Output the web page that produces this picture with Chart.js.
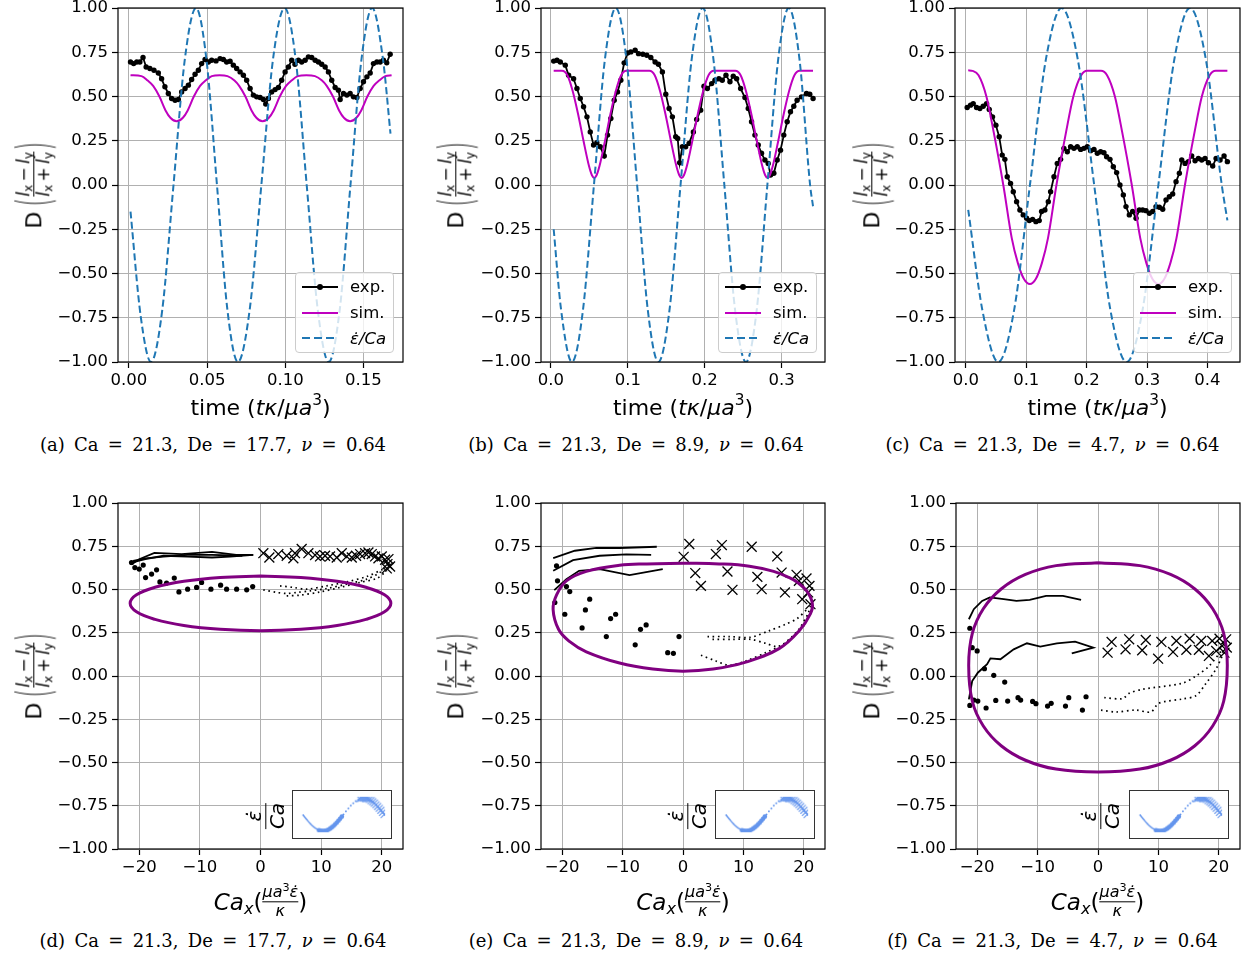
<!DOCTYPE html>
<html>
<head>
<meta charset="utf-8">
<script src="https://cdn.jsdelivr.net/npm/chart.js@4.4.1/dist/chart.umd.min.js"></script>
<style>
  body { margin:0; background:#fff; width:1249px; height:958px; position:relative; overflow:hidden; font-family:"DejaVu Sans"; color:#000; }
  canvas.main { position:absolute; }
  canvas.inset { position:absolute; background:#fff; border:1.3px solid #333; z-index:2; }
  .ytitle { position:absolute; transform:translate(-50%,-50%) rotate(-90deg); display:flex; align-items:center; font-size:22px; white-space:nowrap; line-height:1; }
  .bp { display:inline-block; transform:scale(0.9,2.1); margin:0 1px; font-weight:300; }
  .frac { display:inline-flex; flex-direction:column; align-items:center; font-size:17px; line-height:1.0; }
  .frac .bar { align-self:stretch; height:1.4px; background:#000; margin:1px 0; }
  sub, sup { font-size:70%; line-height:0; }
  sub { vertical-align:-0.25em; }
  sup { vertical-align:0.6em; }
  .xtitle { position:absolute; transform:translate(-50%,-50%); display:flex; align-items:center; font-size:23px; white-space:nowrap; }
  .xtitle .frac { font-size:16px; }
  .ttitle { position:absolute; transform:translate(-50%,-50%); font-size:22px; white-space:nowrap; }
  .caption { position:absolute; transform:translate(-50%,-50%); font-family:"DejaVu Serif"; font-size:18px; word-spacing:3.6px; white-space:nowrap; }
  .ilabel { position:absolute; transform:translate(-50%,-50%) rotate(-90deg); z-index:2; }
  .ilabel .frac { font-size:20px; }
  .legend { position:absolute; width:99px; height:81px; box-sizing:border-box; padding-top:1px; background:rgba(255,255,255,0.8); border:1px solid #ccc; border-radius:4px; font-size:16.5px; z-index:2; }
  .legend .row { height:25.8px; display:flex; align-items:center; }
  .legend .h { width:36px; height:2px; margin:0 12px 0 6px; position:relative; }
  .legend .dot { position:absolute; left:15px; top:-2px; width:6px; height:6px; border-radius:50%; background:#000; }
</style>
</head>
<body>
<script>
// tick labels
const yTicks = [-1, -0.75, -0.5, -0.25, 0, 0.25, 0.5, 0.75, 1];
const xTicksA = [0, 0.05, 0.1, 0.15];
const xTicksB = [0, 0.1, 0.2, 0.3];
const xTicksC = [0, 0.1, 0.2, 0.3, 0.4];
const caTicks = [-20, -10, 0, 10, 20];

// (a) De = 17.7  [time, D]
const expA = [[0.001,0.695],[0.003,0.686],[0.005,0.695],[0.007,0.695],[0.009,0.72],[0.011,0.667],[0.0134,0.658],[0.016,0.648],[0.0188,0.633],[0.0209,0.60],[0.023,0.555],[0.0252,0.517],[0.0273,0.489],[0.0295,0.479],[0.0316,0.483],[0.0337,0.526],[0.0359,0.545],[0.038,0.564],[0.0401,0.596],[0.0423,0.626],[0.0444,0.648],[0.0465,0.686],[0.0487,0.709],[0.0508,0.695],[0.0529,0.705],[0.0557,0.701],[0.0583,0.714],[0.0604,0.709],[0.0625,0.695],[0.0647,0.699],[0.0668,0.677],[0.0689,0.658],[0.0711,0.639],[0.0732,0.62],[0.0753,0.592],[0.0775,0.545],[0.0796,0.508],[0.0817,0.498],[0.0839,0.494],[0.086,0.483],[0.0875,0.457],[0.0892,0.489],[0.0913,0.526],[0.0935,0.539],[0.0956,0.551],[0.0977,0.592],[0.0999,0.639],[0.102,0.667],[0.1041,0.705],[0.1062,0.682],[0.1084,0.705],[0.1105,0.695],[0.1127,0.705],[0.1148,0.724],[0.1169,0.72],[0.1191,0.705],[0.1212,0.695],[0.1233,0.682],[0.1255,0.667],[0.1276,0.639],[0.1297,0.592],[0.1319,0.551],[0.134,0.536],[0.1351,0.483],[0.1372,0.517],[0.1394,0.508],[0.1415,0.517],[0.1436,0.498],[0.1458,0.494],[0.1479,0.545],[0.15,0.583],[0.1522,0.611],[0.1543,0.633],[0.1564,0.686],[0.1586,0.695],[0.1607,0.695],[0.1628,0.705],[0.1649,0.69],[0.1671,0.739]];
const simA = [[0.001,0.62],[0.008,0.615],[0.012,0.59],[0.0155,0.56],[0.0195,0.50],[0.0235,0.42],[0.0265,0.38],[0.0305,0.36],[0.0345,0.38],[0.0375,0.42],[0.0415,0.50],[0.0455,0.56],[0.049,0.59],[0.053,0.615],[0.058,0.62],[0.063,0.615],[0.0675,0.59],[0.0705,0.56],[0.0745,0.50],[0.0785,0.42],[0.0815,0.38],[0.0855,0.36],[0.0895,0.38],[0.0925,0.42],[0.0965,0.50],[0.1005,0.56],[0.104,0.59],[0.108,0.615],[0.1135,0.62],[0.119,0.615],[0.1235,0.59],[0.1265,0.56],[0.1305,0.50],[0.1345,0.42],[0.1375,0.38],[0.1415,0.36],[0.1455,0.38],[0.1485,0.42],[0.1525,0.50],[0.1565,0.56],[0.16,0.59],[0.164,0.615],[0.168,0.62]];
const rateA = [[0.001,-0.15],[0.0075,-0.74],[0.0141,-1],[0.0213,-0.707],[0.0285,0],[0.0357,0.707],[0.0429,1],[0.0496,0.707],[0.0563,0],[0.063,-0.707],[0.0697,-1],[0.0772,-0.707],[0.0847,0],[0.0921,0.707],[0.0996,1],[0.1067,0.707],[0.1137,0],[0.1208,-0.707],[0.1278,-1],[0.1348,-0.707],[0.1417,0],[0.1487,0.707],[0.1556,1],[0.1625,0.71],[0.1673,0.29]];

// (b) De = 8.9
const expB = [[0.0035,0.70],[0.0078,0.705],[0.0121,0.695],[0.0186,0.677],[0.0229,0.62],[0.0294,0.60],[0.0338,0.545],[0.0381,0.489],[0.0424,0.442],[0.0468,0.385],[0.0511,0.30],[0.0554,0.226],[0.0597,0.239],[0.0641,0.216],[0.0693,0.164],[0.0736,0.282],[0.0779,0.376],[0.0823,0.479],[0.0866,0.526],[0.0909,0.592],[0.0952,0.69],[0.0996,0.746],[0.1039,0.752],[0.1095,0.761],[0.1139,0.742],[0.1195,0.739],[0.1247,0.733],[0.1299,0.72],[0.1355,0.695],[0.1398,0.682],[0.145,0.639],[0.1494,0.513],[0.1537,0.432],[0.158,0.385],[0.1623,0.273],[0.1649,0.263],[0.1675,0.126],[0.171,0.216],[0.1753,0.216],[0.1797,0.235],[0.1853,0.30],[0.1896,0.37],[0.1948,0.423],[0.1991,0.558],[0.2035,0.545],[0.2091,0.573],[0.2134,0.592],[0.2186,0.60],[0.2229,0.592],[0.2277,0.62],[0.2329,0.583],[0.2372,0.615],[0.2416,0.60],[0.2468,0.545],[0.2524,0.494],[0.2567,0.432],[0.261,0.357],[0.2654,0.282],[0.2697,0.226],[0.274,0.179],[0.2784,0.141],[0.2827,0.122],[0.2857,0.056],[0.29,0.066],[0.2944,0.141],[0.2987,0.197],[0.303,0.282],[0.3074,0.357],[0.3117,0.414],[0.316,0.445],[0.3203,0.479],[0.326,0.498],[0.3325,0.517],[0.3368,0.513],[0.3411,0.489]];
const simB = [[0.0035,0.645],[0.0143,0.645],[0.0213,0.62],[0.0283,0.53],[0.0353,0.40],[0.0423,0.25],[0.0493,0.11],[0.0533,0.055],[0.0563,0.04],[0.0593,0.055],[0.0633,0.11],[0.0703,0.25],[0.0773,0.40],[0.0843,0.53],[0.0913,0.62],[0.0983,0.645],[0.128,0.645],[0.135,0.62],[0.142,0.53],[0.149,0.40],[0.156,0.25],[0.163,0.11],[0.167,0.055],[0.17,0.04],[0.173,0.055],[0.177,0.11],[0.184,0.25],[0.191,0.40],[0.198,0.53],[0.205,0.62],[0.212,0.645],[0.2398,0.645],[0.2468,0.62],[0.2538,0.53],[0.2608,0.40],[0.2678,0.25],[0.2748,0.11],[0.2788,0.055],[0.2818,0.04],[0.2848,0.055],[0.2888,0.11],[0.2958,0.25],[0.3028,0.40],[0.3098,0.53],[0.3168,0.62],[0.3238,0.645],[0.341,0.645]];
const rateB = [[0.0035,-0.25],[0.013,-0.70],[0.0273,-1],[0.0416,-0.707],[0.0559,0],[0.0701,0.707],[0.0844,1],[0.0983,0.707],[0.1121,0],[0.126,-0.707],[0.1398,-1],[0.1542,-0.707],[0.1686,0],[0.183,0.707],[0.1974,1],[0.2115,0.707],[0.2256,0],[0.2396,-0.707],[0.2537,-1],[0.2677,-0.707],[0.2816,0],[0.2956,0.707],[0.3095,1],[0.3235,0.707],[0.3372,0],[0.341,-0.12]];

// (c) De = 4.7
const expC = [[0.0022,0.438],[0.0077,0.451],[0.0122,0.46],[0.0177,0.438],[0.0232,0.432],[0.0287,0.445],[0.0343,0.46],[0.0387,0.427],[0.0442,0.385],[0.0497,0.338],[0.0552,0.273],[0.0602,0.169],[0.0646,0.145],[0.0685,0.047],[0.074,0.009],[0.0785,-0.038],[0.084,-0.094],[0.0895,-0.141],[0.095,-0.169],[0.1006,-0.188],[0.105,-0.201],[0.1105,-0.194],[0.116,-0.207],[0.1215,-0.201],[0.1254,-0.15],[0.1309,-0.141],[0.1365,-0.094],[0.1403,-0.038],[0.1459,0.047],[0.1514,0.122],[0.1569,0.145],[0.1624,0.207],[0.168,0.188],[0.1735,0.216],[0.179,0.207],[0.1845,0.216],[0.1901,0.201],[0.1956,0.207],[0.2011,0.216],[0.2066,0.194],[0.2122,0.201],[0.2177,0.179],[0.2232,0.188],[0.2287,0.182],[0.2331,0.16],[0.2387,0.145],[0.2442,0.103],[0.2497,0.07],[0.2552,0.0],[0.2608,-0.056],[0.2652,-0.122],[0.2707,-0.169],[0.2762,-0.15],[0.2818,-0.188],[0.2873,-0.141],[0.2928,-0.141],[0.2983,-0.145],[0.3039,-0.16],[0.3094,-0.15],[0.3149,-0.122],[0.3204,-0.126],[0.326,-0.137],[0.3315,-0.085],[0.337,-0.066],[0.3425,-0.051],[0.3481,0.019],[0.3536,0.066],[0.3575,0.141],[0.363,0.122],[0.3685,0.132],[0.374,0.164],[0.3796,0.137],[0.3851,0.15],[0.3906,0.141],[0.3961,0.15],[0.4017,0.126],[0.4088,0.107],[0.4144,0.15],[0.421,0.141],[0.4276,0.164],[0.4331,0.132]];
const simC = [[0.0039,0.648],[0.011,0.645],[0.021,0.62],[0.034,0.50],[0.046,0.30],[0.062,0.0],[0.076,-0.30],[0.086,-0.44],[0.096,-0.53],[0.106,-0.56],[0.116,-0.53],[0.126,-0.44],[0.136,-0.30],[0.15,0.0],[0.166,0.30],[0.178,0.50],[0.191,0.62],[0.201,0.645],[0.2238,0.645],[0.2338,0.62],[0.2468,0.50],[0.2588,0.30],[0.2748,0.0],[0.2888,-0.30],[0.2988,-0.44],[0.3088,-0.53],[0.3188,-0.56],[0.3288,-0.53],[0.3388,-0.44],[0.3488,-0.30],[0.3628,0.0],[0.3788,0.30],[0.3908,0.50],[0.4038,0.62],[0.4138,0.645],[0.4331,0.645]];
const rateC = [[0.0039,-0.14],[0.0273,-0.706],[0.0536,-1],[0.0799,-0.707],[0.1061,0],[0.1324,0.707],[0.1586,1],[0.1855,0.707],[0.2125,0],[0.2394,-0.707],[0.2663,-1],[0.2926,-0.707],[0.3188,0],[0.3451,0.707],[0.3713,1],[0.3976,0.707],[0.4238,0],[0.4331,-0.2]];

// (d) De = 17.7  [Ca_x, D]
const loopD = [[0,0.578],[-6.64,0.57],[-12.64,0.548],[-17.39,0.513],[-20.45,0.469],[-21.5,0.42],[-20.45,0.371],[-17.39,0.327],[-12.64,0.292],[-6.64,0.27],[0,0.262],[6.64,0.27],[12.64,0.292],[17.39,0.327],[20.45,0.371],[21.5,0.42],[20.45,0.469],[17.39,0.513],[12.64,0.548],[6.64,0.57],[0,0.578]];
const linesD = [
  [[-1.2,0.70],[-4,0.70],[-8,0.718],[-13,0.705],[-17.5,0.712],[-20,0.675],[-21.3,0.645]],
  [[-1.2,0.70],[-5,0.69],[-8,0.685],[-12,0.69],[-16,0.695],[-19,0.675],[-21.3,0.655]],
  [[-3,0.695],[-8,0.70],[-12,0.70],[-16,0.69],[-19,0.68],[-21,0.665]]
];
const dotsD = [[-21.27,0.656],[-20.72,0.627],[-20.0,0.618],[-19.34,0.641],[-18.95,0.569],[-17.96,0.589],[-17.14,0.614],[-16.59,0.544],[-15.49,0.537],[-14.22,0.566],[-13.45,0.486],[-12.02,0.502],[-10.54,0.512],[-9.71,0.541],[-8.17,0.502],[-6.58,0.525],[-5.59,0.502],[-3.94,0.502],[-2.28,0.498],[-1.29,0.517]];
const crossD = [[0.47,0.71],[1.46,0.685],[2.94,0.705],[4.32,0.695],[5.42,0.68],[5.69,0.71],[6.79,0.734],[7.9,0.71],[9.0,0.699],[9.82,0.691],[10.65,0.695],[11.47,0.691],[12.57,0.685],[13.4,0.71],[14.22,0.691],[15.05,0.685],[15.76,0.695],[16.42,0.705],[17.25,0.71],[17.8,0.714],[18.35,0.705],[18.9,0.691],[19.45,0.68],[20.0,0.691],[20.55,0.672],[20.94,0.647],[21.1,0.676],[21.37,0.633],[20.83,0.622]];
const dottedD = [
  [[0.46,0.498],[2.67,0.483],[4.32,0.477],[5.97,0.483],[8.17,0.492],[10.92,0.506],[14.22,0.531],[17.52,0.56],[19.72,0.599],[21.09,0.641]],
  [[3.22,0.521],[5.41,0.512],[7.62,0.502],[10.92,0.521],[14.22,0.544],[17.52,0.575],[20.27,0.618]],
  [[4.32,0.463],[6.52,0.467],[9.82,0.486],[13.12,0.512],[16.42,0.541],[19.17,0.564],[20.82,0.608]]
];

// (e) De = 8.9
const loopE = [[0,0.652],[-6,0.648],[-10.5,0.64],[-16,0.605],[-19.3,0.55],[-20.9,0.47],[-21.5,0.386],[-20.6,0.27],[-18.8,0.2],[-16,0.14],[-10.5,0.075],[-5,0.04],[0,0.028],[5,0.04],[10.4,0.08],[15.9,0.158],[19.2,0.26],[21.1,0.36],[21.4,0.42],[20.5,0.49],[19,0.54],[17.5,0.57],[15,0.605],[11,0.635],[6,0.648],[0,0.652]];
const linesE = [
  [[-21.48,0.681],[-17.9,0.724],[-14.34,0.74],[-10.5,0.74],[-4.34,0.747]],
  [[-21.48,0.608],[-18.2,0.67],[-13.8,0.695],[-9.4,0.703],[-5.27,0.70]],
  [[-21.3,0.496],[-19.3,0.56],[-17.2,0.608],[-13.8,0.618],[-8.85,0.583],[-3.35,0.618]]
];
const dotsE = [[-20.93,0.637],[-20.77,0.55],[-19.29,0.517],[-18.74,0.488],[-21.21,0.425],[-19.56,0.357],[-16.7,0.278],[-16.15,0.382],[-15.44,0.444],[-12.69,0.228],[-11.98,0.332],[-11.15,0.357],[-7.91,0.18],[-7.03,0.27],[-6.1,0.295],[-2.53,0.135],[-1.59,0.131],[-0.66,0.228]];
const crossE = [[0.11,0.689],[1.04,0.763],[2.03,0.595],[2.97,0.521],[5.44,0.705],[6.43,0.757],[7.36,0.604],[8.19,0.498],[11.37,0.747],[12.31,0.573],[13.02,0.502],[15.6,0.691],[16.32,0.598],[16.87,0.483],[18.79,0.585],[19.18,0.55],[19.73,0.444],[20.44,0.564],[20.93,0.521],[21.1,0.415],[20.71,0.483]];
const dottedE = [
  [[4.06,0.228],[7.63,0.228],[11.21,0.224],[14.22,0.261],[16.98,0.299],[18.89,0.332],[20.54,0.386]],
  [[4.88,0.212],[8.18,0.212],[11.21,0.212],[13.68,0.189],[15.87,0.17],[18.07,0.228],[19.99,0.29],[21.1,0.405]],
  [[2.97,0.12],[5.44,0.087],[7.63,0.062],[10.38,0.087],[13.68,0.135],[16.98,0.193],[19.17,0.27],[20.82,0.367]]
];

// (f) De = 4.7
const loopF = [[0,0.655],[-6.94,0.638],[-12.0,0.587],[-16.03,0.503],[-18.98,0.389],[-20.8,0.246],[-21.4,0.06],[-20.8,-0.146],[-18.98,-0.289],[-16.03,-0.403],[-12.0,-0.487],[-6.94,-0.538],[0,-0.555],[6.94,-0.538],[12.0,-0.487],[16.03,-0.403],[18.98,-0.289],[20.8,-0.146],[21.4,0.06],[20.8,0.246],[18.98,0.389],[16.03,0.503],[12.0,0.587],[6.94,0.638],[0,0.655]];
const linesF = [
  [[-21.37,0.328],[-20.55,0.386],[-19.18,0.434],[-17.9,0.454],[-15.6,0.444],[-13.5,0.434],[-11.3,0.44],[-8.6,0.463],[-5.8,0.463],[-2.8,0.44]],
  [[-21.37,-0.135],[-20.82,-0.029],[-19.89,0.019],[-18.35,0.068],[-17.8,0.102],[-16.15,0.097],[-13.95,0.154],[-11.76,0.189],[-9.56,0.17],[-6.81,0.189],[-3.79,0.199],[-0.77,0.164],[-4.34,0.131]]
];
const dotsF = [[-21.21,0.276],[-20.82,0.164],[-20.0,0.145],[-18.79,0.042],[-17.25,0.004],[-15.44,-0.035],[-21.21,-0.17],[-20.55,-0.139],[-19.89,-0.145],[-18.52,-0.185],[-16.92,-0.141],[-14.95,-0.145],[-13.24,-0.125],[-12.8,-0.139],[-10.82,-0.147],[-10.27,-0.16],[-8.35,-0.174],[-7.75,-0.158],[-5.38,-0.174],[-4.84,-0.125],[-2.58,-0.197],[-1.98,-0.12]];
const crossF = [[1.59,0.135],[2.25,0.197],[4.56,0.154],[5.16,0.212],[7.31,0.149],[7.91,0.208],[9.95,0.10],[10.49,0.197],[12.42,0.139],[12.97,0.203],[14.62,0.151],[15.16,0.216],[16.7,0.151],[17.09,0.203],[18.35,0.116],[18.9,0.203],[19.56,0.145],[20.11,0.216],[20.55,0.174],[20.93,0.135],[21.21,0.212],[21.32,0.164]];
const dottedF = [
  [[1.04,-0.125],[4.07,-0.131],[5.16,-0.10],[7.37,-0.077],[13.96,-0.042],[16.2,0.0],[18.4,0.058],[20.6,0.155]],
  [[0.5,-0.197],[2.97,-0.208],[6.27,-0.197],[8.74,-0.208],[10.1,-0.157],[13.96,-0.133],[16.2,-0.114],[17.8,-0.046],[19.5,0.039],[20.8,0.135]]
];

// inset: strain rate over one cycle [phase, rate/Ca]
const insetLine = [[0,0],[0.05,-0.309],[0.1,-0.588],[0.15,-0.809],[0.2,-0.951]];
const insetDots = [[0.2,-0.951],[0.22,-0.982],[0.24,-0.998],[0.26,-0.998],[0.28,-0.982],[0.3,-0.951],[0.32,-0.905],[0.34,-0.844],[0.36,-0.771],[0.38,-0.685],[0.4,-0.588],[0.42,-0.482],[0.44,-0.368],[0.46,-0.249],[0.48,-0.125]];
const insetSmall = [[0.5,0],[0.53,0.187],[0.56,0.368],[0.59,0.536],[0.62,0.685],[0.65,0.809],[0.68,0.905]];
const insetCross = [[0.7,0.951],[0.72,0.982],[0.74,0.998],[0.76,0.998],[0.78,0.982],[0.8,0.951],[0.82,0.905],[0.84,0.844],[0.86,0.771],[0.88,0.685],[0.9,0.588],[0.92,0.482],[0.94,0.368],[0.96,0.249],[0.98,0.125],[1.0,0]];

Chart.defaults.font.family = "'DejaVu Sans'";
Chart.defaults.font.size = 16.5;
Chart.defaults.color = "#000";

const xy = (arr) => arr.map((p) => ({ x: p[0], y: p[1] }));
const fmt = (v, d) => (v < 0 ? "\u2212" : "") + Math.abs(v).toFixed(d);

const framePlugin = {
  id: "frame",
  afterDraw(chart) {
    const { ctx, chartArea: a } = chart;
    ctx.save();
    ctx.strokeStyle = "#000";
    ctx.lineWidth = 1.2;
    ctx.strokeRect(a.left, a.top, a.right - a.left, a.bottom - a.top);
    ctx.restore();
  },
};

const gridOpts = { color: "#b0b0b0", lineWidth: 1, tickColor: "#000", tickLength: 6, tickWidth: 1.2 };

// box = [left, top, right, bottom] of the plot area on the page
const makeMain = (box, xRange, xTicks, xDec, datasets) => {
  const cv = document.createElement("canvas");
  cv.className = "main";
  const w = box[2] - box[0] + 94;
  const h = box[3] - box[1] + 64;
  cv.width = w;
  cv.height = h;
  cv.style.left = box[0] - 80 + "px";
  cv.style.top = box[1] - 20 + "px";
  cv.style.width = w + "px";
  cv.style.height = h + "px";
  document.body.appendChild(cv);
  new Chart(cv, {
    type: "scatter",
    data: { datasets: datasets },
    options: {
      responsive: false,
      devicePixelRatio: 1,
      animation: false,
      events: [],
      layout: { padding: { left: 0, top: 20, right: 14, bottom: 0 } },
      plugins: { legend: { display: false }, tooltip: { enabled: false } },
      scales: {
        x: {
          type: "linear",
          min: xRange[0],
          max: xRange[1],
          afterBuildTicks: (s) => { s.ticks = xTicks.map((v) => ({ value: v })); },
          afterFit: (s) => { s.height = 44; },
          ticks: { callback: (v) => fmt(v, xDec), padding: 3, maxRotation: 0, autoSkip: false },
          grid: gridOpts,
          border: { display: false },
        },
        y: {
          min: -1,
          max: 1,
          afterBuildTicks: (s) => { s.ticks = yTicks.map((v) => ({ value: v })); },
          afterFit: (s) => { s.width = 80; },
          ticks: { callback: (v) => fmt(v, 2), padding: 4, autoSkip: false },
          grid: gridOpts,
          border: { display: false },
        },
      },
    },
    plugins: [framePlugin],
  });
};

const timeSets = (exp, sim, rate) => [
  { data: xy(rate), showLine: true, borderColor: "#1f77b4", borderWidth: 2, borderDash: [7, 3.5], pointRadius: 0, cubicInterpolationMode: "monotone" },
  { data: xy(sim), showLine: true, borderColor: "#bf00bf", borderWidth: 2, pointRadius: 0, cubicInterpolationMode: "monotone" },
  { data: xy(exp), showLine: true, borderColor: "#000", borderWidth: 1.8, pointRadius: 2.7, pointBackgroundColor: "#000", pointBorderWidth: 0 },
];

const phaseSets = (loop, lines, dots, cross, dotted) => {
  const sets = [{ data: xy(loop), showLine: true, borderColor: "#800080", borderWidth: 3, pointRadius: 0, tension: 0.4 }];
  lines.forEach((l) => sets.push({ data: xy(l), showLine: true, borderColor: "#000", borderWidth: 1.8, pointRadius: 0 }));
  dotted.forEach((l) => sets.push({ data: xy(l), showLine: true, borderColor: "#000", borderWidth: 1.7, borderDash: [1.6, 3.6], pointRadius: 0, tension: 0.3 }));
  sets.push({ data: xy(dots), showLine: false, pointRadius: 2.6, pointBackgroundColor: "#000", pointBorderWidth: 0 });
  sets.push({ data: xy(cross), showLine: false, pointStyle: "crossRot", pointRadius: 7, pointBorderColor: "#000", pointBorderWidth: 1.3 });
  return sets;
};

makeMain([118, 8, 403, 362], [-0.007, 0.1753], xTicksA, 2, timeSets(expA, simA, rateA));
makeMain([541, 8, 825, 362], [-0.013, 0.3566], xTicksB, 1, timeSets(expB, simB, rateB));
makeMain([955, 8, 1240, 362], [-0.018, 0.454], xTicksC, 1, timeSets(expC, simC, rateC));
makeMain([118, 503, 403, 849], [-23.5, 23.5], caTicks, 0, phaseSets(loopD, linesD, dotsD, crossD, dottedD));
makeMain([541, 503, 825, 849], [-23.5, 23.5], caTicks, 0, phaseSets(loopE, linesE, dotsE, crossE, dottedE));
makeMain([956, 503, 1240, 849], [-23.5, 23.5], caTicks, 0, phaseSets(loopF, linesF, dotsF, crossF, dottedF));

const makeInset = (left, top) => {
  const cv = document.createElement("canvas");
  cv.className = "inset";
  cv.width = 100;
  cv.height = 49;
  cv.style.left = left + "px";
  cv.style.top = top + "px";
  document.body.appendChild(cv);
  const blue = "#6495ed";
  new Chart(cv, {
    type: "scatter",
    data: {
      datasets: [
        { data: xy(insetLine), showLine: true, borderColor: blue, borderWidth: 1.5, pointRadius: 0, tension: 0.4 },
        { data: xy(insetDots), pointRadius: 2.4, pointBackgroundColor: blue, pointBorderWidth: 0 },
        { data: xy(insetSmall), pointRadius: 1, pointBackgroundColor: blue, pointBorderWidth: 0 },
        { data: xy(insetCross), pointStyle: "crossRot", pointRadius: 5, pointBorderColor: blue, pointBorderWidth: 1.1 },
      ],
    },
    options: {
      responsive: false,
      devicePixelRatio: 1,
      animation: false,
      events: [],
      layout: { padding: 0 },
      plugins: { legend: { display: false }, tooltip: { enabled: false } },
      scales: {
        x: { display: false, min: -0.045, max: 1.01 },
        y: { display: false, min: -1.07, max: 1.07 },
      },
    },
  });
};
makeInset(292, 790);
makeInset(715, 790);
makeInset(1129, 790);

// text overlays
const add = (cls, x, y, html) => {
  const d = document.createElement("div");
  d.className = cls;
  d.style.left = x + "px";
  d.style.top = y + "px";
  d.innerHTML = html;
  document.body.appendChild(d);
  return d;
};
const dTitle = 'D&thinsp;<span class="bp">(</span><span class="frac"><span><i>l</i><sub>x</sub>&thinsp;&minus;&thinsp;<i>l</i><sub>y</sub></span><span class="bar"></span><span><i>l</i><sub>x</sub>&thinsp;+&thinsp;<i>l</i><sub>y</sub></span></span><span class="bp">)</span>';
const timeTitle = 'time (<i>t&kappa;</i>/<i>&mu;a</i><sup>3</sup>)';
const caTitle = '<span><i>Ca</i><sub><i>x</i></sub></span>(<span class="frac"><span><i>&mu;a</i><sup>3</sup><i>&epsilon;&#775;</i></span><span class="bar"></span><span><i>&kappa;</i></span></span>)';
const rateLabel = '<span class="frac"><span><i>&epsilon;&#775;</i></span><span class="bar"></span><span><i>Ca</i></span></span>';
const legendHtml =
  '<div class="row"><span class="h" style="background:#000"><span class="dot"></span></span>exp.</div>' +
  '<div class="row"><span class="h" style="background:#bf00bf"></span>sim.</div>' +
  '<div class="row"><span class="h" style="background:repeating-linear-gradient(90deg,#1f77b4 0 8px,transparent 8px 12px)"></span><i>&epsilon;&#775;/Ca</i></div>';

const captions = ["(a) Ca = 21.3, De = 17.7, <i>&nu;</i> = 0.64", "(b) Ca = 21.3, De = 8.9, <i>&nu;</i> = 0.64", "(c) Ca = 21.3, De = 4.7, <i>&nu;</i> = 0.64",
  "(d) Ca = 21.3, De = 17.7, <i>&nu;</i> = 0.64", "(e) Ca = 21.3, De = 8.9, <i>&nu;</i> = 0.64", "(f) Ca = 21.3, De = 4.7, <i>&nu;</i> = 0.64"];

[34, 456, 872].forEach((x) => { add("ytitle", x, 185, dTitle); add("ytitle", x, 676, dTitle); });
[260.5, 683, 1097.5].forEach((x) => { add("ttitle", x, 407, timeTitle); add("xtitle", x, 902, caTitle); });
[295, 718, 1133].forEach((x) => add("legend", x, 272, legendHtml));
[266, 688, 1101].forEach((x) => add("ilabel", x, 816, rateLabel));
[213, 636, 1052.5].forEach((x, i) => { add("caption", x, 443.5, captions[i]); add("caption", x, 940, captions[i + 3]); });
</script>
</body>
</html>
